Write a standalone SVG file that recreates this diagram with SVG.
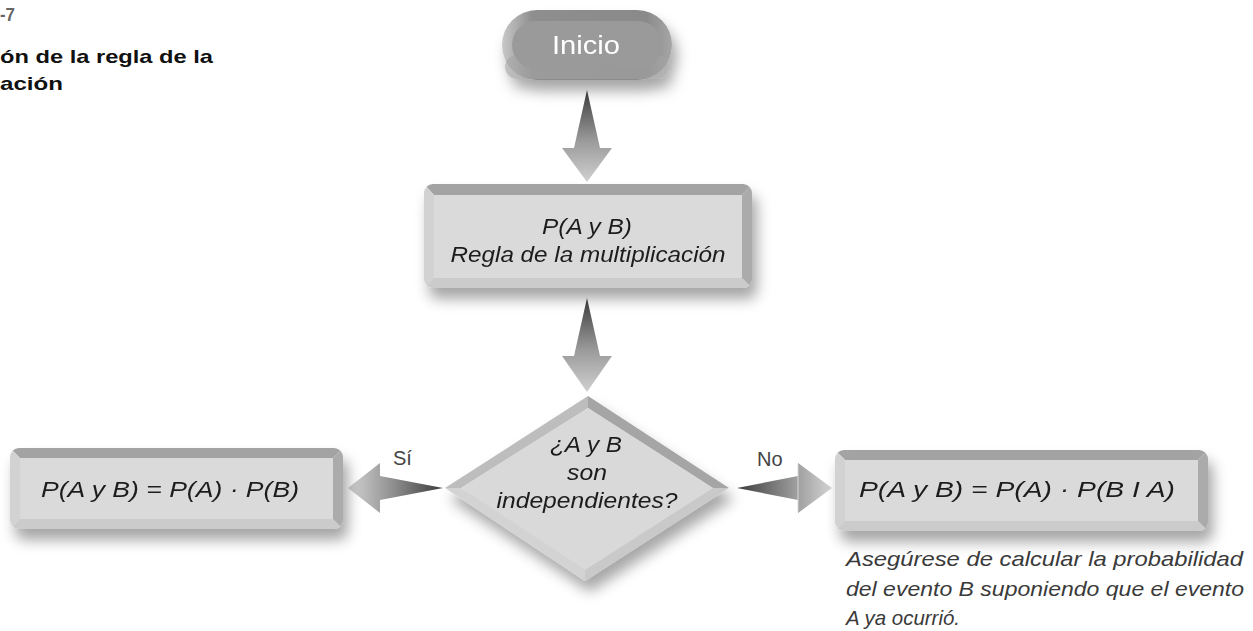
<svg xmlns="http://www.w3.org/2000/svg" width="1253" height="631" viewBox="0 0 1253 631">
<style>
.title{font-family:"Liberation Sans",Arial,sans-serif;font-weight:bold;font-size:19px;fill:#111}
.num{font-family:"Liberation Sans",Arial,sans-serif;font-weight:bold;font-size:19px;fill:#666}
.bt{font-family:"Liberation Sans",Arial,sans-serif;font-style:italic;font-size:22px;fill:#1e1e1e;text-anchor:middle}
.lbl{font-family:"Liberation Sans",Arial,sans-serif;font-size:20px;fill:#444}
.note{font-family:"Liberation Sans",Arial,sans-serif;font-style:italic;font-size:21px;fill:#3a3a3a}
.start{font-family:"Liberation Sans",Arial,sans-serif;font-size:25px;fill:#fff;text-anchor:middle}
.face{fill:#dadada}
.bt-top{fill:#a3a3a3}
.bt-right{fill:#ababab}
.bt-bottom{fill:#cbcbcb}
.bt-left{fill:#d2d2d2}
</style>
<defs>
<filter id="sh" x="-20%" y="-30%" width="140%" height="170%">
<feGaussianBlur in="SourceAlpha" stdDeviation="7"/>
<feOffset dx="5" dy="11" result="b"/>
<feFlood flood-color="#000" flood-opacity="0.35"/>
<feComposite in2="b" operator="in" result="s"/>
<feMerge><feMergeNode in="s"/><feMergeNode in="SourceGraphic"/></feMerge>
</filter>
<linearGradient id="gDown" x1="0" y1="0" x2="0" y2="1">
<stop offset="0" stop-color="#3c3c3c"/><stop offset="0.55" stop-color="#9a9a9a"/><stop offset="1" stop-color="#d0d0d0"/>
</linearGradient>
<linearGradient id="gLeft" x1="1" y1="0" x2="0" y2="0">
<stop offset="0" stop-color="#3c3c3c"/><stop offset="0.6" stop-color="#9a9a9a"/><stop offset="1" stop-color="#d4d4d4"/>
</linearGradient>
<linearGradient id="gRight" x1="0" y1="0" x2="1" y2="0">
<stop offset="0" stop-color="#3c3c3c"/><stop offset="0.6" stop-color="#9a9a9a"/><stop offset="1" stop-color="#d4d4d4"/>
</linearGradient>
<linearGradient id="gPill" x1="0" y1="0" x2="1" y2="0">
<stop offset="0" stop-color="#c8c8c8"/><stop offset="0.18" stop-color="#8e8e8e"/><stop offset="0.85" stop-color="#8a8a8a"/><stop offset="1" stop-color="#a6a6a6"/>
</linearGradient>
<clipPath id="c1"><rect x="424" y="184" width="328" height="104" rx="9"/></clipPath>
<clipPath id="c2"><rect x="10" y="448" width="333" height="81" rx="9"/></clipPath>
<clipPath id="c3"><rect x="835" y="450" width="373" height="81" rx="9"/></clipPath>
</defs>
<rect width="1253" height="631" fill="#fff"/>

<g id="title">
<text class="num" x="0" y="21" textLength="15" lengthAdjust="spacingAndGlyphs">-7</text>
<text class="title" x="0" y="63" textLength="213" lengthAdjust="spacingAndGlyphs">ón de la regla de la</text>
<text class="title" x="0" y="90" textLength="63" lengthAdjust="spacingAndGlyphs">ación</text>
</g>

<g id="connectors">
<polygon points="587,90 600,148 612,148 587,182 562,148 574,148" fill="url(#gDown)"/>
<polygon points="587,298 600,356 612,356 587,392 562,356 574,356" fill="url(#gDown)"/>
<polygon points="443,488 380,500 380,513 348,488 380,463 380,476" fill="url(#gLeft)"/>
<polygon points="737,488 798,476 798,463 832,488 798,513 798,500" fill="url(#gRight)"/>
<line x1="798" y1="465" x2="798" y2="511" stroke="#d8d8d8" stroke-width="1"/>
<text class="lbl" x="393" y="465">Sí</text>
<text class="lbl" x="757" y="466">No</text>
</g>

<g id="inicio" filter="url(#sh)">
<rect x="502" y="10" width="170" height="70" rx="35" fill="url(#gPill)"/>
<rect x="505" y="55" width="164" height="24" rx="12" fill="#a4a4a4" opacity="0.6"/>
<rect x="512" y="21" width="150" height="48" rx="24" fill="#9a9a9a"/>
<text class="start" x="586" y="54" textLength="68" lengthAdjust="spacingAndGlyphs">Inicio</text>
</g>

<g id="regla" filter="url(#sh)">
<g clip-path="url(#c1)">
<polygon class="bt-top" points="424,184 752,184 742,195 434,195"/>
<polygon class="bt-right" points="752,184 752,288 742,278 742,195"/>
<polygon class="bt-bottom" points="424,288 752,288 742,278 434,278"/>
<polygon class="bt-left" points="424,184 434,195 434,278 424,288"/>
<rect class="face" x="434" y="195" width="308" height="83"/>
</g>
<text class="bt" x="587" y="234" textLength="90" lengthAdjust="spacingAndGlyphs">P(A y B)</text>
<text class="bt" x="588" y="262" textLength="275" lengthAdjust="spacingAndGlyphs">Regla de la multiplicación</text>
</g>

<g id="decision" filter="url(#sh)">
<polygon points="445,488 588,396 588,408 461,488" fill="#bdbdbd"/>
<polygon points="588,396 729,488 713,488 588,408" fill="#a5a5a5"/>
<polygon points="729,488 585,581 585,570 713,488" fill="#c9c9c9"/>
<polygon points="585,581 445,488 461,488 585,570" fill="#d3d3d3"/>
<polygon points="588,408 713,488 585,570 461,488" fill="#d9d9d9"/>
<text class="bt" x="586" y="452" textLength="72" lengthAdjust="spacingAndGlyphs">¿A y B</text>
<text class="bt" x="587" y="480" textLength="40" lengthAdjust="spacingAndGlyphs">son</text>
<text class="bt" x="587" y="508" textLength="181" lengthAdjust="spacingAndGlyphs">independientes?</text>
</g>

<g id="si" filter="url(#sh)">
<g clip-path="url(#c2)">
<polygon class="bt-top" points="10,448 343,448 333,458 20,458"/>
<polygon class="bt-right" points="343,448 343,529 333,519 333,458"/>
<polygon class="bt-bottom" points="10,529 343,529 333,519 20,519"/>
<polygon class="bt-left" points="10,448 20,458 20,519 10,529"/>
<rect class="face" x="20" y="458" width="313" height="61"/>
</g>
<text class="bt" x="170" y="497" textLength="258" lengthAdjust="spacingAndGlyphs">P(A y B) = P(A) · P(B)</text>
</g>

<g id="no" filter="url(#sh)">
<g clip-path="url(#c3)">
<polygon class="bt-top" points="835,450 1208,450 1198,460 845,460"/>
<polygon class="bt-right" points="1208,450 1208,531 1198,521 1198,460"/>
<polygon class="bt-bottom" points="835,531 1208,531 1198,521 845,521"/>
<polygon class="bt-left" points="835,450 845,460 845,521 835,531"/>
<rect class="face" x="845" y="460" width="353" height="61"/>
</g>
<text class="bt" x="1017" y="497" textLength="316" lengthAdjust="spacingAndGlyphs">P(A y B) = P(A) · P(B I A)</text>
</g>

<g id="nota">
<text class="note" x="846" y="566" textLength="397" lengthAdjust="spacingAndGlyphs">Asegúrese de calcular la probabilidad</text>
<text class="note" x="846" y="596" textLength="398" lengthAdjust="spacingAndGlyphs">del evento B suponiendo que el evento</text>
<text class="note" x="846" y="625" textLength="114" lengthAdjust="spacingAndGlyphs">A ya ocurrió.</text>
</g>
</svg>
